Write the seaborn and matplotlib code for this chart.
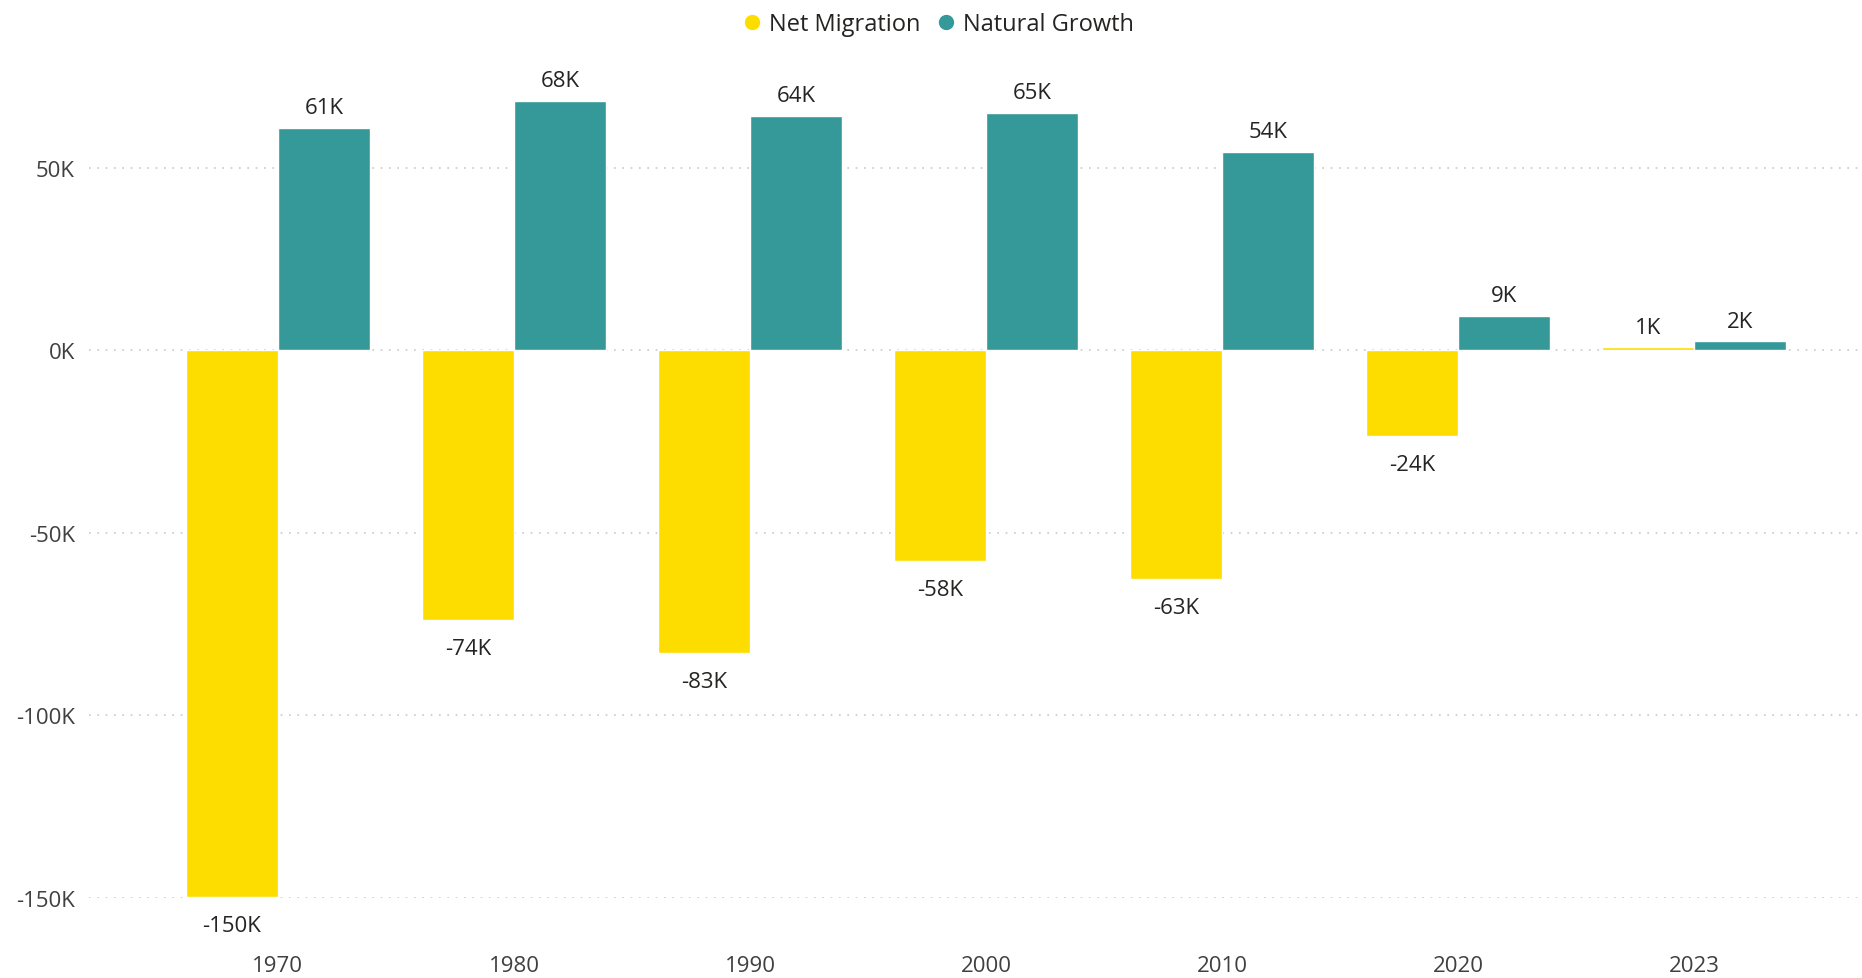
import pandas as pd
import matplotlib.pyplot as plt
import seaborn as sns
from matplotlib.lines import Line2D

years = ['1970', '1980', '1990', '2000', '2010', '2020', '2023']
net_migration = [-149800, -73800, -82900, -57600, -62700, -23600, 800]
natural_growth = [60800, 68200, 64100, 65000, 54300, 9300, 2400]
series = ['Net Migration', 'Natural Growth']
colors = ['#FDDD00', '#35999A']

df = pd.DataFrame({
    'year': years * 2,
    'series': [series[0]] * len(years) + [series[1]] * len(years),
    'value': net_migration + natural_growth,
})

sns.set_theme(style='white')
plt.rcParams['font.family'] = ['Open Sans', 'DejaVu Sans']

fig = plt.figure(figsize=(18.62, 9.79), dpi=100)
ax = fig.add_axes([89 / 1862, 1 - 899 / 979, 1 - 89 / 1862, (899 - 59) / 979])

sns.barplot(data=df, x='year', y='value', hue='series', palette=colors,
            width=0.78, saturation=1, ax=ax, legend=False)

ax.set_ylim(-150000, 80000)
ax.set_xlim(-0.80, 6.71)
ax.set_yticks([-150000, -100000, -50000, 0, 50000])
ax.set_yticklabels([f'{int(t / 1000)}K' for t in ax.get_yticks()])
ax.set_xlabel('')
ax.set_ylabel('')
ax.yaxis.grid(True, linestyle=(0, (1, 4)), color='#C8C8C8', linewidth=1.2)
ax.set_axisbelow(True)
for s in ax.spines.values():
    s.set_visible(False)
ax.tick_params(axis='x', length=0, pad=41, labelsize=16, labelcolor='#404040')
ax.tick_params(axis='y', length=0, pad=10, labelsize=16, labelcolor='#404040')

# data labels
for cont in ax.containers:
    for bar in cont:
        v = bar.get_height()
        x = bar.get_x() + bar.get_width() / 2
        lab = f'{round(v / 1000)}K'
        if v >= 0:
            ax.annotate(lab, (x, v), xytext=(0, 7), textcoords='offset points',
                        ha='center', va='bottom', fontsize=16, color='#252423')
        else:
            ax.annotate(lab, (x, v), xytext=(0, -13), textcoords='offset points',
                        ha='center', va='top', fontsize=16, color='#252423')

handles = [Line2D([], [], marker='o', linestyle='', markersize=10, color=c) for c in colors]
fig.legend(handles, series, loc='upper center', bbox_to_anchor=(0.5, 1.008), ncol=2,
           frameon=False, fontsize=17, handletextpad=-0.3, columnspacing=0.1,
           labelcolor='#252423')

fig.savefig('out.png', dpi=100)
